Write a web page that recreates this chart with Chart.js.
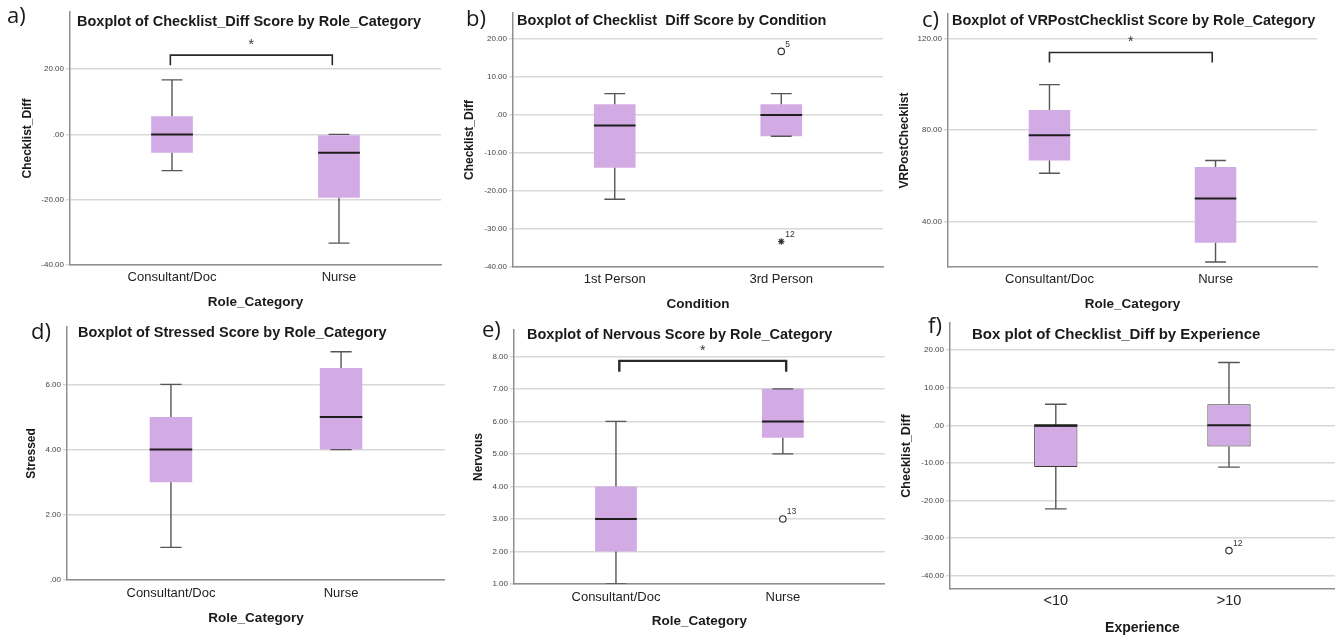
<!DOCTYPE html>
<html>
<head>
<meta charset="utf-8">
<script src="https://cdn.jsdelivr.net/npm/chart.js@4.4.1/dist/chart.umd.min.js"></script>
<style>
  body { margin: 0; background: #fff; width: 1340px; height: 639px; position: relative; overflow: hidden; }
  canvas { position: absolute; }
</style>
</head>
<body>
<canvas id="pa"></canvas>
<canvas id="pb"></canvas>
<canvas id="pc"></canvas>
<canvas id="pd"></canvas>
<canvas id="pe"></canvas>
<canvas id="pf"></canvas>
<script>
// a) Checklist_Diff by Role_Category
const aCats = ['Consultant/Doc', 'Nurse'];
const aLow = [-11.1, -33.3];
const aQ1 = [-5.6, -19.4];
const aMed = [0, -5.6];
const aQ3 = [5.6, 0];
const aHigh = [16.7, 0];
const aTicks = [-40, -20, 0, 20];
const aRange = [-40, 37.5];
const aBracketX = [0.99, 1.96];
const aBracketY = [24.3, 21.2];

// b) Checklist_Diff by Condition
const bCats = ['1st Person', '3rd Person'];
const bLow = [-22.2, -5.6];
const bQ1 = [-13.9, -5.6];
const bMed = [-2.8, 0];
const bQ3 = [2.8, 2.8];
const bHigh = [5.6, 5.6];
const bOutX = [2, 2];
const bOutY = [16.7, -33.3];
const bOutLbl = ['5', '12'];
const bOutKind = ['o', '*'];
const bTicks = [-40, -30, -20, -10, 0, 10, 20];
const bRange = [-40, 26.8];

// c) VRPostChecklist by Role_Category
const cCats = ['Consultant/Doc', 'Nurse'];
const cLow = [61.1, 22.2];
const cQ1 = [66.7, 30.6];
const cMed = [77.8, 50];
const cQ3 = [88.9, 63.9];
const cHigh = [100, 66.7];
const cTicks = [40, 80, 120];
const cRange = [20, 131];
const cBracketX = [1.0, 1.98];
const cBracketY = [114.1, 109.7];

// d) Stressed by Role_Category
const dCats = ['Consultant/Doc', 'Nurse'];
const dLow = [1, 4];
const dQ1 = [3, 4];
const dMed = [4, 5];
const dQ3 = [5, 6.5];
const dHigh = [6, 7];
const dTicks = [0, 2, 4, 6];
const dRange = [0, 7.76];

// e) Nervous by Role_Category
const eCats = ['Consultant/Doc', 'Nurse'];
const eLow = [1, 5];
const eQ1 = [2, 5.5];
const eMed = [3, 6];
const eQ3 = [4, 7];
const eHigh = [6, 7];
const eOutX = [2];
const eOutY = [3];
const eOutLbl = ['13'];
const eOutKind = ['o'];
const eTicks = [1, 2, 3, 4, 5, 6, 7, 8];
const eRange = [1, 8.81];
const eBracketX = [1.02, 2.02];
const eBracketY = [7.86, 7.53];

// f) Checklist_Diff by Experience
const fCats = ['<10', '>10'];
const fLow = [-22.2, -11.1];
const fQ1 = [-11.1, -5.6];
const fMed = [0, 0];
const fQ3 = [0, 5.6];
const fHigh = [5.6, 16.7];
const fOutX = [2];
const fOutY = [-33.3];
const fOutLbl = ['12'];
const fOutKind = ['o'];
const fTicks = [-40, -30, -20, -10, 0, 10, 20];
const fRange = [-43.5, 27.2];

Chart.defaults.font.family = '"Liberation Sans", Arial, sans-serif';
Chart.defaults.animation = false;

const BOX_FILL = '#d3abe4';
const fmt = v => v === 0 ? '.00' : v.toFixed(2);

// titles, panel letters, outlier ids and the significance star
const panelText = {
  id: 'panelText',
  afterDraw(chart) {
    const o = chart.options.plugins.panelText;
    const ctx = chart.ctx;
    const xs = chart.scales.x, ys = chart.scales.y;
    ctx.save();
    ctx.fillStyle = '#1a1a1a';
    ctx.textBaseline = 'middle';
    ctx.textAlign = 'left';
    ctx.font = '22px "Open Sans"';
    ctx.fillText(o.letter, o.letterX, o.letterY);
    ctx.font = 'bold ' + o.titleSize + 'px "Liberation Sans"';
    ctx.fillText(o.title, o.titleX, o.titleY);
    ctx.font = '8.5px "Liberation Sans"';
    ctx.fillStyle = '#333';
    (o.outLbl || []).forEach((t, i) => {
      ctx.fillText(t, xs.getPixelForValue(o.outX[i]) + 4, ys.getPixelForValue(o.outY[i]) - 7);
    });
    if (o.bracketX) {
      ctx.textAlign = 'center';
      ctx.font = '14px "Liberation Sans"';
      ctx.fillStyle = '#333';
      const mx = xs.getPixelForValue((o.bracketX[0] + o.bracketX[1]) / 2);
      ctx.fillText('*', mx, ys.getPixelForValue(o.bracketY[0]) - 10);
    }
    ctx.restore();
  }
};

function boxplot(id, d, f) {
  const canvas = document.getElementById(id);
  canvas.width = f.w;
  canvas.height = f.h;
  canvas.style.left = f.left + 'px';
  canvas.style.top = f.top + 'px';

  const xs = d.cats.map((c, i) => i + 1);
  const cap = 0.0625, half = 0.125;

  const whiskers = [];
  const medians = [];
  xs.forEach((x, i) => {
    whiskers.push(
      {x, y: d.q3[i]}, {x, y: d.high[i]}, {x, y: null},
      {x: x - cap, y: d.high[i]}, {x: x + cap, y: d.high[i]}, {x, y: null},
      {x, y: d.q1[i]}, {x, y: d.low[i]}, {x, y: null},
      {x: x - cap, y: d.low[i]}, {x: x + cap, y: d.low[i]}, {x, y: null}
    );
    medians.push({x: x - half, y: d.med[i]}, {x: x + half, y: d.med[i]}, {x, y: null});
  });

  const datasets = [
    {
      type: 'bar',
      data: xs.map((x, i) => ({x, y: [d.q1[i], d.q3[i]]})),
      backgroundColor: BOX_FILL,
      borderColor: '#3a3a3a',
      borderWidth: f.boxBorder || 0,
      borderSkipped: false,
      categoryPercentage: 0.25,
      barPercentage: 1,
      order: 3
    },
    {
      type: 'line', data: whiskers, borderColor: '#555', borderWidth: 1.4,
      pointRadius: 0, spanGaps: false, tension: 0, order: 2
    },
    {
      type: 'line', data: medians, borderColor: '#1e1e1e', borderWidth: 2,
      pointRadius: 0, spanGaps: false, tension: 0, order: 1
    }
  ];
  if (d.outX) {
    datasets.push({
      type: 'line', showLine: false,
      data: d.outX.map((x, i) => ({x, y: d.outY[i]})),
      pointStyle: d.outKind.map(k => k === '*' ? 'star' : 'circle'),
      pointRadius: 3.2, pointBorderWidth: 1.2,
      pointBackgroundColor: '#fff', pointBorderColor: '#333', order: 0
    });
  }
  if (d.bracketX) {
    datasets.push({
      type: 'line',
      data: [
        {x: d.bracketX[0], y: d.bracketY[1]}, {x: d.bracketX[0], y: d.bracketY[0]},
        {x: d.bracketX[1], y: d.bracketY[0]}, {x: d.bracketX[1], y: d.bracketY[1]}
      ],
      borderColor: '#2a2a2a', borderWidth: f.bracketWidth || 1.6,
      pointRadius: 0, tension: 0, clip: false, order: 0
    });
  }

  const [al, at, ar, ab] = f.area;
  const yTitleLH = f.yTitleSize * 1.2;
  const xTitleLH = f.xTitleSize * 1.2;
  const tickLH = f.tickSize * 1.2;

  new Chart(canvas, {
    type: 'bar',
    data: { datasets },
    plugins: [panelText],
    options: {
      responsive: false,
      animation: false,
      layout: { padding: { left: 0, top: at - f.top, right: f.left + f.w - ar, bottom: 0 } },
      plugins: {
        legend: { display: false },
        tooltip: { enabled: false },
        panelText: {
          letter: f.letter, letterX: f.letterX - f.left, letterY: f.letterY - f.top,
          title: f.title, titleSize: f.titleSize, titleX: f.titleX - f.left, titleY: f.titleY - f.top,
          outX: d.outX, outY: d.outY, outLbl: d.outLbl,
          bracketX: d.bracketX, bracketY: d.bracketY
        }
      },
      scales: {
        x: {
          type: 'linear',
          offset: false,
          min: 1.5 - 1.111,
          max: 1.5 + 1.111,
          afterBuildTicks: s => { s.ticks = xs.map(v => ({value: v})); },
          afterFit: s => { s.height = f.top + f.h - ab; },
          ticks: {
            callback: v => d.cats[v - 1],
            font: { size: f.tickSize },
            color: '#222',
            padding: f.tickY - ab - tickLH / 2,
            autoSkip: false,
            maxRotation: 0
          },
          grid: { display: false, drawTicks: false, offset: false },
          border: { color: '#8f8f8f', width: 1.5 },
          title: {
            display: true, text: d.xTitle, color: '#1a1a1a',
            font: { size: f.xTitleSize, weight: 'bold' },
            padding: { top: 0, bottom: f.top + f.h - f.xTitleY - xTitleLH / 2 }
          }
        },
        y: {
          type: 'linear',
          min: d.range[0],
          max: d.range[1],
          afterBuildTicks: s => { s.ticks = d.ticks.map(v => ({value: v})); },
          afterFit: s => { s.width = al - f.left; },
          ticks: {
            callback: v => fmt(v),
            font: { size: 8 },
            color: '#444',
            padding: 2
          },
          grid: { color: '#d8d8d8', lineWidth: 1.5, tickLength: 4, drawTicks: true },
          border: { color: '#8f8f8f', width: 1.5 },
          title: {
            display: true, text: d.yTitle, color: '#1a1a1a',
            font: { size: f.yTitleSize, weight: 'bold' },
            padding: { top: f.yTitleX - f.left - yTitleLH / 2, bottom: 0 }
          }
        }
      }
    }
  });
}

boxplot('pa',
  { cats: aCats, low: aLow, q1: aQ1, med: aMed, q3: aQ3, high: aHigh, ticks: aTicks, range: aRange,
    bracketX: aBracketX, bracketY: aBracketY, xTitle: 'Role_Category', yTitle: 'Checklist_Diff' },
  { left: 0, top: 0, w: 445, h: 315, area: [70, 12, 441, 265],
    yTitleX: 28, tickY: 277, xTitleY: 302, titleX: 77, titleY: 22, letterX: 7, letterY: 17,
    letter: 'a)', title: 'Boxplot of Checklist_Diff Score by Role_Category',
    titleSize: 14.5, tickSize: 13, xTitleSize: 13.5, yTitleSize: 12 });

boxplot('pb',
  { cats: bCats, low: bLow, q1: bQ1, med: bMed, q3: bQ3, high: bHigh, ticks: bTicks, range: bRange,
    outX: bOutX, outY: bOutY, outLbl: bOutLbl, outKind: bOutKind,
    xTitle: 'Condition', yTitle: 'Checklist_Diff' },
  { left: 445, top: 0, w: 445, h: 315, area: [513, 13, 883, 267],
    yTitleX: 470, tickY: 279, xTitleY: 304, titleX: 517, titleY: 21, letterX: 466, letterY: 20,
    letter: 'b)', title: 'Boxplot of Checklist  Diff Score by Condition',
    titleSize: 14.5, tickSize: 13, xTitleSize: 13.5, yTitleSize: 12 });

boxplot('pc',
  { cats: cCats, low: cLow, q1: cQ1, med: cMed, q3: cQ3, high: cHigh, ticks: cTicks, range: cRange,
    bracketX: cBracketX, bracketY: cBracketY, xTitle: 'Role_Category', yTitle: 'VRPostChecklist' },
  { left: 890, top: 0, w: 450, h: 315, area: [948, 14, 1317, 267],
    yTitleX: 905, tickY: 279, xTitleY: 304, titleX: 952, titleY: 21, letterX: 922, letterY: 21,
    letter: 'c)', title: 'Boxplot of VRPostChecklist Score by Role_Category',
    titleSize: 14.5, tickSize: 13, xTitleSize: 13.5, yTitleSize: 12 });

boxplot('pd',
  { cats: dCats, low: dLow, q1: dQ1, med: dMed, q3: dQ3, high: dHigh, ticks: dTicks, range: dRange,
    xTitle: 'Role_Category', yTitle: 'Stressed' },
  { left: 0, top: 315, w: 445, h: 324, area: [67, 327, 445, 580],
    yTitleX: 32, tickY: 593, xTitleY: 618, titleX: 78, titleY: 333, letterX: 31, letterY: 333,
    letter: 'd)', title: 'Boxplot of Stressed Score by Role_Category',
    titleSize: 14.5, tickSize: 13, xTitleSize: 13.5, yTitleSize: 12 });

boxplot('pe',
  { cats: eCats, low: eLow, q1: eQ1, med: eMed, q3: eQ3, high: eHigh, ticks: eTicks, range: eRange,
    outX: eOutX, outY: eOutY, outLbl: eOutLbl, outKind: eOutKind,
    bracketX: eBracketX, bracketY: eBracketY, xTitle: 'Role_Category', yTitle: 'Nervous' },
  { left: 445, top: 315, w: 445, h: 324, area: [514, 330, 888, 584],
    yTitleX: 479, tickY: 597, xTitleY: 621, titleX: 527, titleY: 335, letterX: 482, letterY: 331,
    letter: 'e)', title: 'Boxplot of Nervous Score by Role_Category', bracketWidth: 2.4,
    titleSize: 14.5, tickSize: 13, xTitleSize: 13.5, yTitleSize: 12 });

boxplot('pf',
  { cats: fCats, low: fLow, q1: fQ1, med: fMed, q3: fQ3, high: fHigh, ticks: fTicks, range: fRange,
    outX: fOutX, outY: fOutY, outLbl: fOutLbl, outKind: fOutKind,
    xTitle: 'Experience', yTitle: 'Checklist_Diff' },
  { left: 890, top: 315, w: 450, h: 324, area: [950, 323, 1338, 589],
    yTitleX: 907, tickY: 601, xTitleY: 628, titleX: 972, titleY: 335, letterX: 928, letterY: 327,
    letter: 'f)', title: 'Box plot of Checklist_Diff by Experience', boxBorder: 1,
    titleSize: 15, tickSize: 14.5, xTitleSize: 14, yTitleSize: 12.5 });
</script>
</body>
</html>
